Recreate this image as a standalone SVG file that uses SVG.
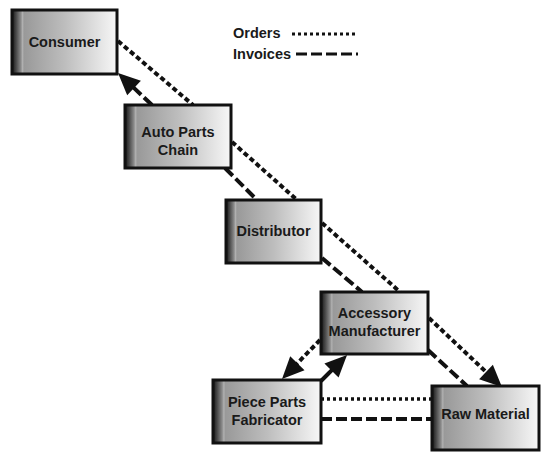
<svg xmlns="http://www.w3.org/2000/svg" width="551" height="461" viewBox="0 0 551 461">
<defs>
<linearGradient id="boxGrad" x1="0" y1="0" x2="1" y2="0">
<stop offset="0" stop-color="#151515"/>
<stop offset="0.04" stop-color="#4a4a4a"/>
<stop offset="0.085" stop-color="#8c8c8c"/>
<stop offset="0.1" stop-color="#b0b0b0"/>
<stop offset="0.115" stop-color="#999"/>
<stop offset="0.5" stop-color="#bdbdbd"/>
<stop offset="1" stop-color="#f7f7f7"/>
</linearGradient>
<marker id="arrow" markerUnits="userSpaceOnUse" markerWidth="22" markerHeight="20" refX="16" refY="10" orient="auto" overflow="visible">
<path d="M0,0 L22,10 L0,20 z" fill="#111"/>
</marker>
</defs>
<style>
.box{fill:url(#boxGrad);stroke:#111;stroke-width:3}
.lbl{font-family:"Liberation Sans",Arial,sans-serif;font-weight:bold;font-size:14.5px;fill:#1a1a1a;text-anchor:middle}
.leg{font-family:"Liberation Sans",Arial,sans-serif;font-weight:bold;font-size:14.5px;fill:#1a1a1a}
.ord{fill:none;stroke:#111;stroke-width:4;stroke-dasharray:5 3}
.inv{fill:none;stroke:#111;stroke-width:4;stroke-dasharray:11 4}
.sol{fill:none;stroke:#111;stroke-width:4}
</style>
<g id="legend">
<text class="leg" x="233" y="38">Orders</text>
<line class="ord" x1="292" y1="34" x2="358" y2="34" style="stroke-width:3;stroke-dasharray:3 3"/>
<text class="leg" x="233" y="59">Invoices</text>
<line class="inv" x1="296" y1="54" x2="358" y2="54" style="stroke-width:3"/>
</g>
<g id="connectors">
<line class="ord" x1="118" y1="41" x2="193" y2="105"/>
<line class="inv" x1="152" y1="105" x2="122.4" y2="77.1" marker-end="url(#arrow)"/>
<line class="ord" x1="232" y1="142" x2="297" y2="200"/>
<line class="inv" x1="225" y1="168" x2="257" y2="200"/>
<line class="ord" x1="322" y1="223" x2="400" y2="292"/>
<line class="inv" x1="322" y1="258" x2="362" y2="292"/>
<line class="ord" x1="429" y1="318" x2="497.6" y2="382.9" marker-end="url(#arrow)"/>
<line class="inv" x1="428" y1="350" x2="467" y2="386"/>
<line class="ord" x1="320" y1="340" x2="286.2" y2="374.7" marker-end="url(#arrow)"/>
<line class="sol" x1="321" y1="381" x2="342.8" y2="359.2" marker-end="url(#arrow)"/>
<line class="ord" x1="321" y1="399" x2="432" y2="399" style="stroke-width:3.5;stroke-dasharray:3 3"/>
<line class="inv" x1="321" y1="419" x2="432" y2="419"/>
</g>
<g id="consumer">
<rect class="box" x="12" y="10" width="105" height="64"/>
<text class="lbl" x="64.5" y="47">Consumer</text>
</g>
<g id="auto-parts-chain">
<rect class="box" x="125" y="105" width="106" height="63"/>
<text class="lbl" x="178" y="137">Auto Parts</text>
<text class="lbl" x="178" y="155">Chain</text>
</g>
<g id="distributor">
<rect class="box" x="226" y="200" width="95" height="63"/>
<text class="lbl" x="273.5" y="236">Distributor</text>
</g>
<g id="accessory-manufacturer">
<rect class="box" x="321" y="292" width="107" height="62"/>
<text class="lbl" x="374.5" y="318">Accessory</text>
<text class="lbl" x="374.5" y="336">Manufacturer</text>
</g>
<g id="piece-parts-fabricator">
<rect class="box" x="213" y="380" width="108" height="63"/>
<text class="lbl" x="267" y="407">Piece Parts</text>
<text class="lbl" x="267" y="425">Fabricator</text>
</g>
<g id="raw-material">
<rect class="box" x="432" y="386" width="107" height="64"/>
<text class="lbl" x="485.5" y="419">Raw Material</text>
</g>
</svg>
